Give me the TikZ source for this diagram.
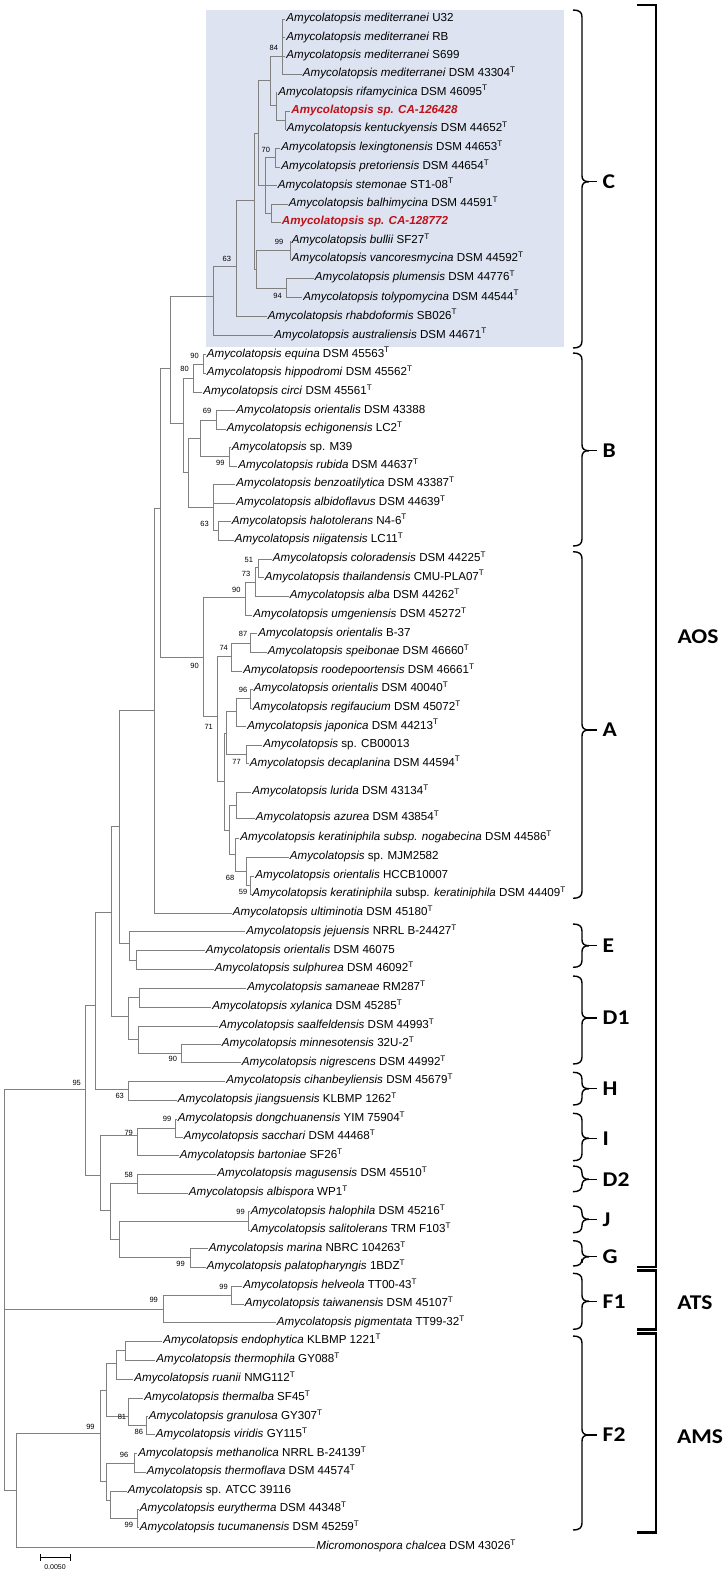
\documentclass[tikz,border=0pt]{standalone}
\usepackage{fontspec}
\usepackage{graphicx}
\setmainfont{Liberation Sans}
\newfontfamily\brfont{Carlito}
\definecolor{cshade}{RGB}{221,227,241}
\definecolor{brgrey}{RGB}{128,128,128}
\definecolor{hired}{RGB}{192,16,24}
\newcommand{\Amy}[1]{\textit{Amycolatopsis #1}}
\newcommand{\typ}{\textsuperscript{T}}
\newcommand{\redlab}[1]{\textcolor{hired}{\bfseries\itshape Amycolatopsis sp. #1}}
\newcommand{\lf}[4]{\coordinate (#1) at (#2,#3); \node[lab] (#1t) at (#1) {#4};}
\newcommand{\ed}[2]{\foreach \ch in {#2} {\draw[br] (#1) |- (\ch);}}
\newcommand{\wide}[1]{\scalebox{1.12}[1]{#1}}
\newcommand{\cbr}[5]{%
 \coordinate (#1a) at (573,#2); \coordinate (#1z) at (573,#3);
 \coordinate (#1m) at (589,#4); \coordinate (#1e) at (597,#4);
 \draw[brace] (#1a) .. controls (579,#2) and (582,#2+2) .. (582,#2+7) -- (582,#4-6) .. controls (582,#4-2) and (584,#4) .. (#1m);
 \draw[brace] (#1m) .. controls (584,#4) and (582,#4+2) .. (582,#4+6) -- (582,#3-7) .. controls (582,#3-2) and (579,#3) .. (#1z);
 \draw[brace] (#1m) -- (#1e);
 \node[clab] (#1l) at (602.5,#4) {\wide{#5}};}
\tikzset{
 br/.style={draw=brgrey, line width=0.9pt},
 lab/.style={anchor=mid west, inner xsep=1.2pt, inner ysep=0pt, font=\fontsize{11.6}{12}\selectfont},
 bs/.style={font=\fontsize{7.5}{8}\selectfont, inner sep=0pt},
 brace/.style={draw=black, line width=1.4pt},
 bigbr/.style={draw=black, line width=2.7pt, line join=miter},
 clab/.style={font=\brfont\bfseries\fontsize{21}{21}\selectfont, anchor=west, inner sep=0pt},
 biglab/.style={font=\brfont\bfseries\fontsize{21}{21}\selectfont, inner sep=0pt},
}
\begin{document}
\begin{tikzpicture}[x=1pt,y=-1pt]
\path[use as bounding box] (0,0) rectangle (726,1583);
\fill[cshade] (206,10) rectangle (564,346.5);
% ---------- leaves ----------
\lf{l1}{285}{19.3}{\Amy{mediterranei} U32}
\lf{l2}{285}{37.7}{\Amy{mediterranei} RB}
\lf{l3}{285}{56}{\Amy{mediterranei} S699}
\lf{l4}{301.5}{74.3}{\Amy{mediterranei} DSM 43304\typ}
\lf{l5}{277}{92.7}{\Amy{rifamycinica} DSM 46095\typ}
\lf{l6}{290}{111}{\redlab{CA-126428}}
\lf{l7}{285.5}{129.3}{\Amy{kentuckyensis} DSM 44652\typ}
\lf{l8}{280}{148.3}{\Amy{lexingtonensis} DSM 44653\typ}
\lf{l9}{280}{167.3}{\Amy{pretoriensis} DSM 44654\typ}
\lf{l10}{276.5}{185.7}{\Amy{stemonae} ST1-08\typ}
\lf{l11}{287.5}{204}{\Amy{balhimycina} DSM 44591\typ}
\lf{l12}{280.5}{222.3}{\redlab{CA-128772}}
\lf{l13}{290.5}{241}{\Amy{bullii} SF27\typ}
\lf{l14}{290.5}{259.3}{\Amy{vancoresmycina} DSM 44592\typ}
\lf{l15}{313.5}{278.3}{\Amy{plumensis} DSM 44776\typ}
\lf{l16}{302}{297.7}{\Amy{tolypomycina} DSM 44544\typ}
\lf{l17}{266.5}{316.7}{\Amy{rhabdoformis} SB026\typ}
\lf{l18}{273}{335.7}{\Amy{australiensis} DSM 44671\typ}
\lf{l19}{205.5}{354.7}{\Amy{equina} DSM 45563\typ}
\lf{l20}{205.5}{373.3}{\Amy{hippodromi} DSM 45562\typ}
\lf{l21}{202}{392}{\Amy{circi} DSM 45561\typ}
\lf{l22}{235}{410.7}{\Amy{orientalis} DSM 43388}
\lf{l23}{225.5}{429.3}{\Amy{echigonensis} LC2\typ}
\lf{l24}{230.5}{447.7}{\textit{Amycolatopsis} sp. M39}
\lf{l25}{237}{466}{\Amy{rubida} DSM 44637\typ}
\lf{l26}{235}{484.3}{\Amy{benzoatilytica} DSM 43387\typ}
\lf{l27}{235}{503}{\Amy{albidoflavus} DSM 44639\typ}
\lf{l28}{230.5}{521.7}{\Amy{halotolerans} N4-6\typ}
\lf{l29}{233.5}{540}{\Amy{niigatensis} LC11\typ}
\lf{l30}{271.5}{559}{\Amy{coloradensis} DSM 44225\typ}
\lf{l31}{263.5}{577.7}{\Amy{thailandensis} CMU-PLA07\typ}
\lf{l32}{288.5}{596.3}{\Amy{alba} DSM 44262\typ}
\lf{l33}{252}{615}{\Amy{umgeniensis} DSM 45272\typ}
\lf{l34}{257}{633.7}{\Amy{orientalis} B-37}
\lf{l35}{266.5}{652.3}{\Amy{speibonae} DSM 46660\typ}
\lf{l36}{242}{671}{\Amy{roodepoortensis} DSM 46661\typ}
\lf{l37}{252.5}{689.3}{\Amy{orientalis} DSM 40040\typ}
\lf{l38}{251.5}{708}{\Amy{regifaucium} DSM 45072\typ}
\lf{l39}{246}{726.7}{\Amy{japonica} DSM 44213\typ}
\lf{l40}{262}{745.3}{\textit{Amycolatopsis} sp. CB00013}
\lf{l41}{248.5}{763.7}{\Amy{decaplanina} DSM 44594\typ}
\lf{l42}{251}{792.3}{\Amy{lurida} DSM 43134\typ}
\lf{l43}{254.5}{818.3}{\Amy{azurea} DSM 43854\typ}
\lf{l44}{239}{838}{\Amy{keratiniphila subsp. nogabecina} DSM 44586\typ}
\lf{l45}{288.5}{857}{\textit{Amycolatopsis} sp. MJM2582}
\lf{l46}{254}{876.3}{\Amy{orientalis} HCCB10007}
\lf{l47}{251}{894.3}{\Amy{keratiniphila} subsp. \textit{keratiniphila} DSM 44409\typ}
\lf{l48}{231.5}{913}{\Amy{ultiminotia} DSM 45180\typ}
\lf{l49}{245}{931.7}{\Amy{jejuensis} NRRL B-24427\typ}
\lf{l50}{204.5}{950.7}{\Amy{orientalis} DSM 46075}
\lf{l51}{213.5}{969.3}{\Amy{sulphurea} DSM 46092\typ}
\lf{l52}{246}{988.3}{\Amy{samaneae} RM287\typ}
\lf{l53}{211}{1007}{\Amy{xylanica} DSM 45285\typ}
\lf{l54}{218}{1026}{\Amy{saalfeldensis} DSM 44993\typ}
\lf{l55}{220.5}{1044.3}{\Amy{minnesotensis} 32U-2\typ}
\lf{l56}{240.5}{1062.7}{\Amy{nigrescens} DSM 44992\typ}
\lf{l57}{225}{1081.3}{\Amy{cihanbeyliensis} DSM 45679\typ}
\lf{l58}{176.5}{1100.3}{\Amy{jiangsuensis} KLBMP 1262\typ}
\lf{l59}{176.5}{1119.3}{\Amy{dongchuanensis} YIM 75904\typ}
\lf{l60}{182.5}{1137.3}{\Amy{sacchari} DSM 44468\typ}
\lf{l61}{178.5}{1155.7}{\Amy{bartoniae} SF26\typ}
\lf{l62}{216}{1174.3}{\Amy{magusensis} DSM 45510\typ}
\lf{l63}{187.5}{1193}{\Amy{albispora} WP1\typ}
\lf{l64}{249.5}{1211.7}{\Amy{halophila} DSM 45216\typ}
\lf{l65}{249.5}{1230}{\Amy{salitolerans} TRM F103\typ}
\lf{l66}{207.5}{1248.7}{\Amy{marina} NBRC 104263\typ}
\lf{l67}{205.5}{1267}{\Amy{palatopharyngis} 1BDZ\typ}
\lf{l68}{242}{1286}{\Amy{helveola} TT00-43\typ}
\lf{l69}{243.5}{1304}{\Amy{taiwanensis} DSM 45107\typ}
\lf{l70}{275.5}{1322.7}{\Amy{pigmentata} TT99-32\typ}
\lf{l71}{162}{1341.3}{\Amy{endophytica} KLBMP 1221\typ}
\lf{l72}{155}{1360}{\Amy{thermophila} GY088\typ}
\lf{l73}{133}{1379}{\Amy{ruanii} NMG112\typ}
\lf{l74}{143}{1398}{\Amy{thermalba} SF45\typ}
\lf{l75}{147.5}{1416.7}{\Amy{granulosa} GY307\typ}
\lf{l76}{154.5}{1434.7}{\Amy{viridis} GY115\typ}
\lf{l77}{137}{1453.7}{\Amy{methanolica} NRRL B-24139\typ}
\lf{l78}{145.5}{1472.3}{\Amy{thermoflava} DSM 44574\typ}
\lf{l79}{126.5}{1491}{\textit{Amycolatopsis} sp. ATCC 39116}
\lf{l80}{138.5}{1509.3}{\Amy{eurytherma} DSM 44348\typ}
\lf{l81}{138.5}{1527.7}{\Amy{tucumanensis} DSM 45259\typ}
\lf{l82}{315}{1547.3}{\textit{Micromonospora chalcea} DSM 43026\typ}
% ---------- internal nodes ----------
\coordinate (med) at (282.7,56);
\coordinate (ken) at (285,120);
\coordinate (rif) at (276,105);
\coordinate (m84) at (270,80);
\coordinate (lex) at (275,157.8);
\coordinate (balh) at (271.7,213.3);
\coordinate (cL) at (265,185.7);
\coordinate (c3) at (258.3,133);
\coordinate (bv) at (290,250);
\coordinate (pt) at (286.7,288);
\coordinate (c4) at (256.7,269);
\coordinate (c2) at (254,200);
\coordinate (c1) at (236,266.7);
\coordinate (c0) at (213.3,296);
\coordinate (eh) at (203.3,364);
\coordinate (b80) at (193.3,378);
\coordinate (o69) at (216.7,420);
\coordinate (r99) at (229.3,456);
\coordinate (b200) at (200,438);
\coordinate (h63) at (218.3,530);
\coordinate (b213) at (213.3,507);
\coordinate (b188) at (188.3,472);
\coordinate (b183) at (183,423.3);
\coordinate (cb) at (170.7,368);
\coordinate (c51) at (258.3,567.5);
\coordinate (a73) at (255,582);
\coordinate (a90t) at (245,597.3);
\coordinate (o87) at (250.7,643.3);
\coordinate (a74) at (231.7,656.7);
\coordinate (o96) at (250.7,698.7);
\coordinate (jn) at (236,711.7);
\coordinate (c77) at (246,754.5);
\coordinate (a3) at (226.7,733);
\coordinate (la) at (236,805.3);
\coordinate (k59) at (250.7,885.3);
\coordinate (m68) at (246,871);
\coordinate (kn) at (235,854.5);
\coordinate (a4) at (229.3,830);
\coordinate (a2) at (224.3,781);
\coordinate (a1) at (217.3,716.7);
\coordinate (a0) at (203.3,657.3);
\coordinate (cba) at (160.7,508);
\coordinate (nx) at (154,710);
\coordinate (so) at (136.7,960);
\coordinate (ne) at (129.3,943.3);
\coordinate (ny) at (119.3,826.7);
\coordinate (sx) at (139.3,997.3);
\coordinate (mn) at (181.7,1053.5);
\coordinate (sm) at (138.3,1039.7);
\coordinate (d1) at (128.3,1016.7);
\coordinate (nz) at (111,912);
\coordinate (nh) at (128.3,1089.3);
\coordinate (nw) at (95,1005);
\coordinate (ds) at (175,1128.3);
\coordinate (i79) at (137.3,1135);
\coordinate (d2) at (137.3,1183);
\coordinate (nj) at (248.3,1221);
\coordinate (ng) at (190,1257.8);
\coordinate (lg) at (119.3,1239.3);
\coordinate (nk) at (110,1210);
\coordinate (nv) at (100,1175);
\coordinate (nu) at (85,1089.3);
\coordinate (ht) at (231.7,1295);
\coordinate (ats) at (163,1309);
\coordinate (et) at (125,1350.7);
\coordinate (er) at (116.7,1363);
\coordinate (gv) at (146.7,1425.7);
\coordinate (t81) at (128.3,1416.7);
\coordinate (ea) at (106.7,1390);
\coordinate (m96) at (134,1463);
\coordinate (eu) at (137.5,1518.5);
\coordinate (nq) at (110,1500);
\coordinate (np) at (106,1481.7);
\coordinate (ams) at (100,1433.3);
\coordinate (nr) at (16.7,1490);
\coordinate (root) at (4,1300);
% ---------- branches ----------
\ed{med}{l1,l2,l3,l4}
\ed{ken}{l6,l7}
\ed{rif}{l5,ken}
\ed{m84}{med,rif}
\ed{lex}{l8,l9}
\ed{balh}{l11,l12}
\ed{cL}{lex,l10,balh}
\ed{c3}{m84,cL}
\ed{bv}{l13,l14}
\ed{pt}{l15,l16}
\ed{c4}{bv,pt}
\ed{c2}{c3,c4}
\ed{c1}{c2,l17}
\ed{c0}{c1,l18}
\ed{eh}{l19,l20}
\ed{b80}{eh,l21}
\ed{o69}{l22,l23}
\ed{r99}{l24,l25}
\ed{b200}{o69,r99}
\ed{h63}{l28,l29}
\ed{b213}{l26,l27,h63}
\ed{b188}{b200,b213}
\ed{b183}{b80,b188}
\ed{cb}{c0,b183}
\ed{c51}{l30,l31}
\ed{a73}{c51,l32}
\ed{a90t}{a73,l33}
\ed{o87}{l34,l35}
\ed{a74}{o87,l36}
\ed{o96}{l37,l38}
\ed{jn}{o96,l39}
\ed{c77}{l40,l41}
\ed{a3}{jn,c77}
\ed{la}{l42,l43}
\ed{k59}{l46,l47}
\ed{m68}{l45,k59}
\ed{kn}{l44,m68}
\ed{a4}{la,kn}
\ed{a2}{a3,a4}
\ed{a1}{a74,a2}
\ed{a0}{a90t,a1}
\ed{cba}{cb,a0}
\ed{nx}{cba,l48}
\ed{so}{l50,l51}
\ed{ne}{l49,so}
\ed{ny}{nx,ne}
\ed{sx}{l52,l53}
\ed{mn}{l55,l56}
\ed{sm}{l54,mn}
\ed{d1}{sx,sm}
\ed{nz}{ny,d1}
\ed{nh}{l57,l58}
\ed{nw}{nz,nh}
\ed{ds}{l59,l60}
\ed{i79}{ds,l61}
\ed{d2}{l62,l63}
\ed{nj}{l64,l65}
\ed{ng}{l66,l67}
\ed{lg}{nj,ng}
\ed{nk}{d2,lg}
\ed{nv}{i79,nk}
\ed{nu}{nw,nv}
\ed{ht}{l68,l69}
\ed{ats}{ht,l70}
\ed{et}{l71,l72}
\ed{er}{et,l73}
\ed{gv}{l75,l76}
\ed{t81}{l74,gv}
\ed{ea}{er,t81}
\ed{m96}{l77,l78}
\ed{eu}{l80,l81}
\ed{nq}{l79,eu}
\ed{np}{m96,nq}
\ed{ams}{ea,np}
\ed{nr}{ams,l82}
\ed{root}{nu,ats,nr}
% ---------- bootstrap values ----------
\node[bs] (s1) at (273.8,48.3) {84};
\node[bs] (s2) at (265.8,150) {70};
\node[bs] (s3) at (279,242.3) {99};
\node[bs] (s4) at (226.8,259.3) {63};
\node[bs] (s5) at (277.5,295.7) {94};
\node[bs] (s6) at (194.5,355.7) {90};
\node[bs] (s7) at (184.5,368.7) {80};
\node[bs] (s8) at (207,411) {69};
\node[bs] (s9) at (220.3,463.3) {99};
\node[bs] (s10) at (204.5,524) {63};
\node[bs] (s11) at (248.8,560) {51};
\node[bs] (s12) at (246,574) {73};
\node[bs] (s13) at (236.3,590) {90};
\node[bs] (s14) at (194.5,665.7) {90};
\node[bs] (s15) at (243,634.3) {87};
\node[bs] (s16) at (223.7,648.3) {74};
\node[bs] (s17) at (243,690) {96};
\node[bs] (s18) at (208.7,726.7) {71};
\node[bs] (s19) at (236.5,761.7) {77};
\node[bs] (s20) at (230,878.3) {68};
\node[bs] (s21) at (243,892.3) {59};
\node[bs] (s22) at (172.8,1059.3) {90};
\node[bs] (s23) at (76.7,1082.7) {95};
\node[bs] (s24) at (119.7,1096) {63};
\node[bs] (s25) at (167,1119.3) {99};
\node[bs] (s26) at (128.7,1133.3) {79};
\node[bs] (s27) at (128.7,1175) {58};
\node[bs] (s28) at (240.5,1212.3) {99};
\node[bs] (s29) at (180.5,1264) {99};
\node[bs] (s30) at (223.5,1286.7) {99};
\node[bs] (s31) at (153.7,1300) {99};
\node[bs] (s32) at (90.5,1426.7) {99};
\node[bs] (s33) at (122,1416.7) {81};
\node[bs] (s34) at (138.8,1432.3) {86};
\node[bs] (s35) at (124,1455) {96};
\node[bs] (s36) at (128.8,1525) {99};
% ---------- clade braces ----------
\cbr{bC}{10}{348}{181.7}{C}
\cbr{bB}{353}{546}{450.7}{B}
\cbr{bA}{551.7}{898.3}{730}{A}
\cbr{bE}{924}{967.3}{945.7}{E}
\cbr{bDa}{976}{1064}{1018}{D1}
\cbr{bH}{1072.3}{1105}{1088.7}{H}
\cbr{bI}{1113.3}{1160.7}{1138.3}{I}
\cbr{bDb}{1166}{1191.7}{1179.3}{D2}
\cbr{bJ}{1206}{1232.7}{1219.3}{J}
\cbr{bG}{1240.7}{1266}{1256.7}{G}
\cbr{bFa}{1273.3}{1329.3}{1301.3}{F1}
\cbr{bFb}{1336}{1530}{1435}{F2}
% ---------- group brackets ----------
\coordinate (aos1) at (637,5); \coordinate (aos2) at (637,1267);
\draw[bigbr] (aos1) -| (656,1267) -- (aos2);
\node[biglab] (laos) at (698,636.7) {\wide{AOS}};
\coordinate (ats1) at (637,1270.5); \coordinate (ats2) at (637,1329.3);
\draw[bigbr] (ats1) -| (656,1329.3) -- (ats2);
\node[biglab] (lats) at (695,1303) {\wide{ATS}};
\coordinate (ams1) at (637,1333.5); \coordinate (ams2) at (637,1532.7);
\draw[bigbr] (ams1) -| (656,1532.7) -- (ams2);
\node[biglab] (lams) at (700,1436.7) {\wide{AMS}};
% ---------- scale bar ----------
\coordinate (sb1) at (40,1557.3); \coordinate (sb2) at (70,1557.3);
\draw[black, line width=0.8pt] (sb1) -- (sb2);
\draw[black, line width=0.8pt] (40,1554) -- (40,1560.6) (70,1554) -- (70,1560.6);
\node[bs, font=\fontsize{7}{8}\selectfont] (sbl) at (55,1567.5) {0.0050};
\end{tikzpicture}
\end{document}
